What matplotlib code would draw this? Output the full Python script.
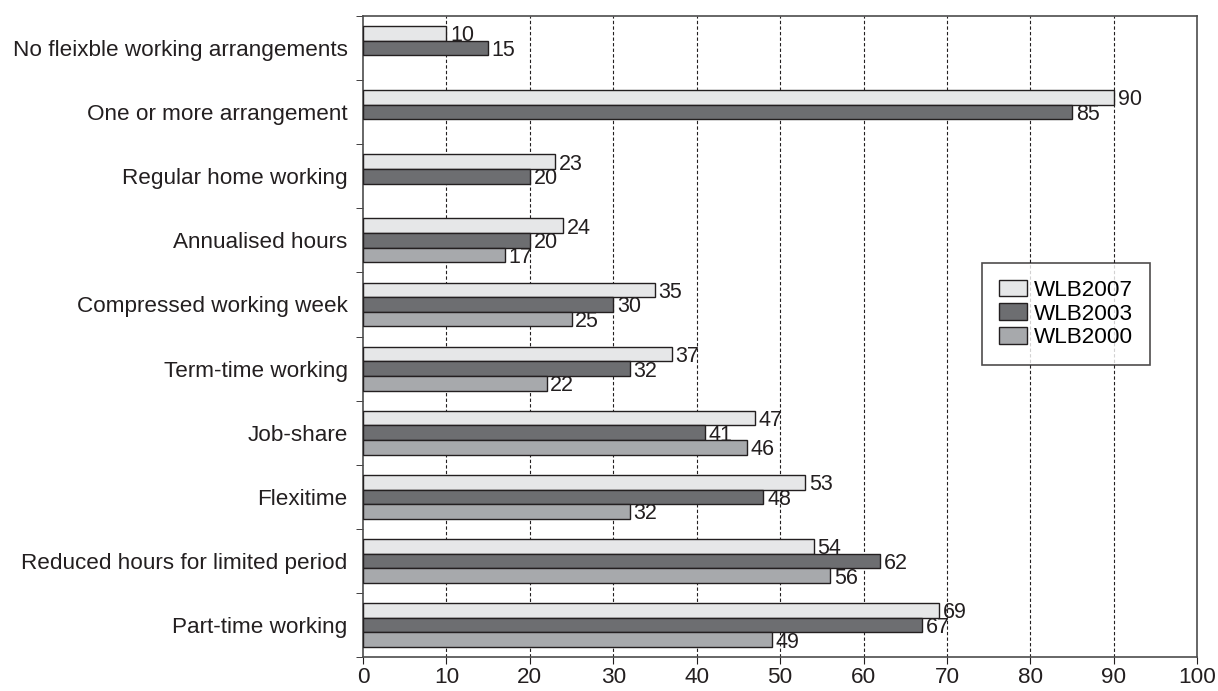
import numpy as np
import matplotlib.pyplot as plt

plt.rcParams['font.family'] = ['Liberation Sans', 'DejaVu Sans']

categories = [
    'No fleixble working arrangements',
    'One or more arrangement',
    'Regular home working',
    'Annualised hours',
    'Compressed working week',
    'Term-time working',
    'Job-share',
    'Flexitime',
    'Reduced hours for limited period',
    'Part-time working',
]
wlb2007 = [10, 90, 23, 24, 35, 37, 47, 53, 54, 69]
wlb2003 = [15, 85, 20, 20, 30, 32, 41, 48, 62, 67]
wlb2000 = [np.nan, np.nan, np.nan, 17, 25, 22, 46, 32, 56, 49]

series = [('WLB2007', wlb2007, '#e6e7e8'),
          ('WLB2003', wlb2003, '#6d6e71'),
          ('WLB2000', wlb2000, '#a7a9ac')]

fs = 16.2

fig = plt.figure(figsize=(12.18, 6.91), dpi=100)
ax = fig.add_axes([0.298, 0.049, 0.685, 0.928])

y = np.arange(len(categories))
h = 0.228
for k, (name, vals, col) in enumerate(series):
    pos = y + (k - 1) * h
    vals = np.array(vals, dtype=float)
    ok = ~np.isnan(vals)
    ax.barh(pos[ok], vals[ok], height=h, color=col, edgecolor='#231f20',
            linewidth=1, label=name, zorder=3)
    for p, v in zip(pos[ok], vals[ok]):
        ax.text(v + 0.45, p, '%d' % v, va='center_baseline', ha='left',
                fontsize=15.5, color='#231f20', zorder=4)

ax.set_xlim(0, 100)
ax.set_ylim(len(categories) - 0.5, -0.5)
ax.set_xticks(np.arange(0, 101, 10))
ax.set_yticks(y)
ax.set_yticklabels(categories)
ax.set_yticks(np.arange(-0.5, len(categories), 1), minor=True)
ax.tick_params(axis='y', which='major', length=0, pad=11, labelsize=fs,
               labelcolor='#231f20')
ax.tick_params(axis='y', which='minor', length=5, direction='out', color='#231f20')
ax.tick_params(axis='x', length=5, direction='out', labelsize=fs, pad=2,
               labelcolor='#231f20', color='#231f20')

for xv in range(10, 100, 10):
    ax.axvline(xv, color='#231f20', linestyle=(0, (3, 2)), linewidth=0.8, zorder=1)

for s in ax.spines.values():
    s.set_color('#4d4d4d')
    s.set_linewidth(1.2)

leg = ax.legend(loc='upper left', bbox_to_anchor=(0.742, 0.615), fontsize=fs,
                frameon=True, fancybox=False, edgecolor='#231f20',
                borderaxespad=0, handlelength=1.25, handleheight=0.75,
                borderpad=0.75, labelspacing=0.12, handletextpad=0.3)
leg.get_frame().set_linewidth(1.2)

fig.savefig('out.png', dpi=100)
